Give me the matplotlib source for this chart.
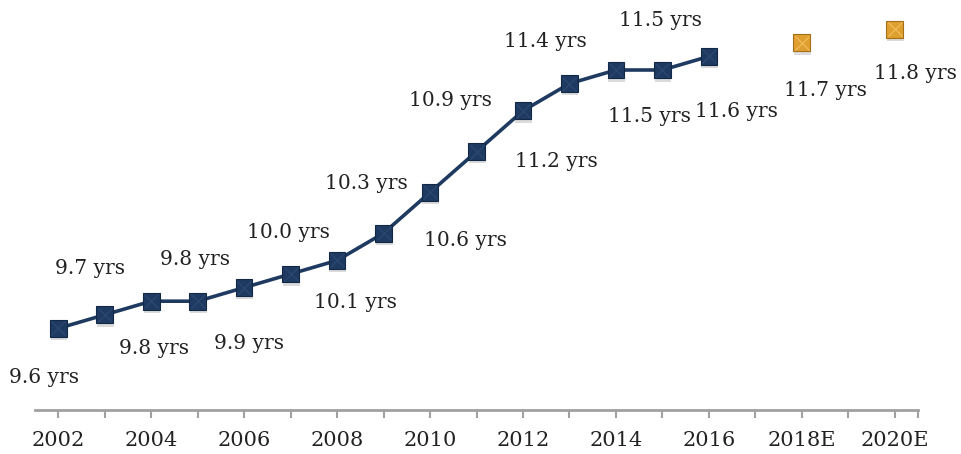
import matplotlib.pyplot as plt
import matplotlib.patheffects as pe

# categories on the x axis (one per year)
categories = ['2002', '2003', '2004', '2005', '2006', '2007', '2008', '2009', '2010',
              '2011', '2012', '2013', '2014', '2015', '2016', '2017', '2018E', '2019', '2020E']
tick_labels = ['2002', '', '2004', '', '2006', '', '2008', '', '2010', '',
               '2012', '', '2014', '', '2016', '', '2018E', '', '2020E']

# average age, actual
actual_years = ['2002', '2003', '2004', '2005', '2006', '2007', '2008', '2009',
                '2010', '2011', '2012', '2013', '2014', '2015', '2016']
actual_values = [9.6, 9.7, 9.8, 9.8, 9.9, 10.0, 10.1, 10.3, 10.6, 10.9, 11.2, 11.4, 11.5, 11.5, 11.6]

# estimates
est_years = ['2018E', '2020E']
est_values = [11.7, 11.8]

# label offsets in pixels (dx, dy), positive dy = up
actual_offsets = [(-14, -49), (-15, 46), (3, -47), (-3, 42), (5, -56), (-2, 42), (18, -42),
                  (-17, 50), (35, -48), (-26, 51), (33, -51), (-24, 42), (34, -46), (-2, 49), (28, -55)]
est_offsets = [(24, -48), (21, -44)]

navy = '#1f3a60'
gold = '#e0a030'

fig = plt.figure(figsize=(9.61, 4.54), dpi=100)
ax = fig.add_axes([35 / 961, 44 / 454, 883 / 961, 408 / 454])

xa = [categories.index(y) for y in actual_years]
xe = [categories.index(y) for y in est_years]

shadow = [pe.SimplePatchShadow(offset=(0.5, -2.5), shadow_rgbFace='#999999', alpha=0.35), pe.Normal()]

ax.plot(xa, actual_values, color=navy, lw=2.6, zorder=2)
ax.plot(xa, actual_values, ls='none', marker='s', ms=12, mfc=navy, mec='#132846', mew=0.8,
        zorder=3, path_effects=shadow)
ax.plot(xa, actual_values, ls='none', marker='x', ms=10, mec='#2c4c78', mew=0.7, zorder=4)

ax.plot(xe, est_values, ls='none', marker='s', ms=12, mfc=gold, mec='#a56e18', mew=0.8,
        zorder=3, path_effects=shadow)
ax.plot(xe, est_values, ls='none', marker='x', ms=10, mec='#f2c266', mew=0.7, zorder=4)

font = dict(family='DejaVu Serif', size=14.5, color='#222222')
for x, v, (dx, dy) in zip(xa, actual_values, actual_offsets):
    ax.annotate(f'{v:.1f} yrs', (x, v), xytext=(dx, dy), textcoords='offset pixels',
                ha='center', va='center', **font)
for x, v, (dx, dy) in zip(xe, est_values, est_offsets):
    ax.annotate(f'{v:.1f} yrs', (x, v), xytext=(dx, dy), textcoords='offset pixels',
                ha='center', va='center', **font)

ax.set_xlim(-0.5, len(categories) - 0.5)
ax.set_ylim(9.0, 12.0)
ax.set_yticks([])
ax.set_xticks(list(range(len(categories))) + [len(categories) - 0.5])
ax.set_xticklabels(tick_labels + [''], fontfamily='DejaVu Serif', fontsize=15, color='#222222')
ax.tick_params(axis='x', length=6, width=1.5, color='#a0a0a0', pad=9)

for side in ['top', 'right', 'left']:
    ax.spines[side].set_visible(False)
ax.spines['bottom'].set_color('#a0a0a0')
ax.spines['bottom'].set_linewidth(2)

fig.savefig('out.png', dpi=100)
